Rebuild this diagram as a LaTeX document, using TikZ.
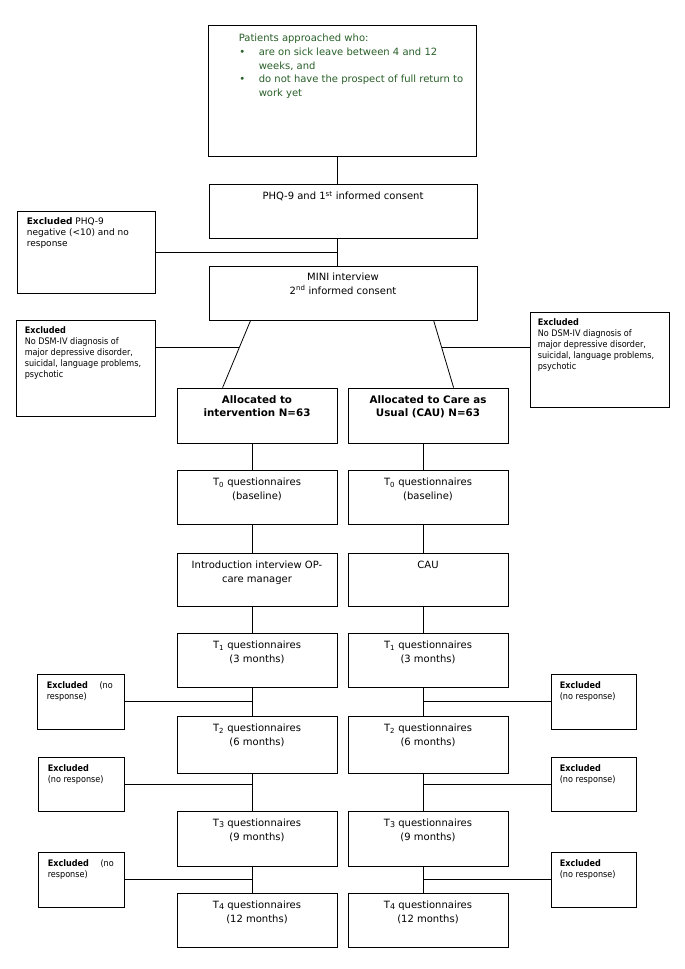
\documentclass[tikz,border=0pt]{standalone}
\usepackage{fontspec}
\setmainfont{DejaVu Sans}
\newfontfamily\condfont{DejaVu Sans Condensed}
\usetikzlibrary{calc}
\definecolor{tgreen}{RGB}{40,95,40}
\tikzset{
  box/.style={draw=black, line width=0.8pt, rectangle, inner sep=0pt},
  conn/.style={draw=black, line width=0.8pt},
  maintext/.style={inner sep=0pt, anchor=north, align=center, font=\fontsize{10}{13.5}\selectfont},
  boldtext/.style={inner sep=0pt, anchor=north, align=center, font=\fontsize{10.3}{12.8}\selectfont\bfseries},
  extext/.style={inner sep=0pt, anchor=north west, align=left, font=\condfont\fontsize{9}{11}\selectfont},
  phqtext/.style={inner sep=0pt, anchor=north west, align=left, font=\fontsize{9}{11}\selectfont},
}
\newcommand{\mkbox}[5]{\node[box, minimum width=#4pt-#2pt, minimum height=#5pt-#3pt] (#1) at ({(#2+#4)/2},{(#3+#5)/2}) {};}
\newcommand{\smallT}[1]{T{\fontsize{8}{9}\selectfont\raisebox{-0.8pt}{#1}}}
\newcommand{\mybul}{\makebox[20pt][l]{\hspace{0.5pt}{\fontsize{10}{10}\selectfont\textbullet}}}
\begin{document}
\begin{tikzpicture}[x=1pt,y=-1pt]
\useasboundingbox (0,0) rectangle (685,969);
% boxes
\mkbox{top}{208}{25}{476}{156}
\mkbox{phq}{209}{184}{477}{238}
\mkbox{exphq}{17}{211}{155}{293}
\mkbox{mini}{209}{266}{477}{320}
\mkbox{exL}{16}{320}{155}{416}
\mkbox{exR}{530}{312}{669}{407}
\mkbox{allocL}{177}{388}{337}{443}
\mkbox{allocR}{348}{388}{508}{443}
\mkbox{t0L}{177}{470}{337}{524}
\mkbox{t0R}{348}{470}{508}{524}
\mkbox{inL}{177}{553}{337}{606}
\mkbox{inR}{348}{553}{508}{606}
\mkbox{t1L}{177}{633}{337}{687}
\mkbox{t1R}{348}{633}{508}{687}
\mkbox{t2L}{177}{716}{337}{773}
\mkbox{t2R}{348}{716}{508}{773}
\mkbox{t3L}{177}{811}{337}{866}
\mkbox{t3R}{348}{811}{508}{866}
\mkbox{t4L}{177}{893}{337}{947}
\mkbox{t4R}{348}{893}{508}{947}
\mkbox{ex1L}{37}{674}{124}{729}
\mkbox{ex1R}{551}{674}{636}{729}
\mkbox{ex2L}{38}{757}{124}{811}
\mkbox{ex2R}{551}{757}{636}{811}
\mkbox{ex3L}{38}{852}{124}{907}
\mkbox{ex3R}{551}{852}{636}{907}
% texts
\node[inner sep=0pt, anchor=north west, align=left, text=tgreen, font=\fontsize{10}{13.6}\selectfont] (ttop) at ($(top.north west)+(31,9.5)$)
 {Patients approached who:\\
  \mybul are on sick leave between 4 and 12\\
  \hspace*{20pt}weeks, and\\
  \mybul do not have the prospect of full return to\\
  \hspace*{20pt}work yet};
\node[maintext] (tphq) at ($(phq.north)+(0,7.5)$) {PHQ-9 and 1\textsuperscript{st} informed consent};
\node[maintext] (tmini) at ($(mini.north)+(0,7.5)$) {MINI interview\\2\textsuperscript{nd} informed consent};
\node[phqtext] (texphq) at ($(exphq.north west)+(10,7)$) {\textbf{Excluded} PHQ-9\\negative (<10) and no\\response};
\node[extext] (texL) at ($(exL.north west)+(9,7)$) {\textbf{Excluded}\\No DSM-IV diagnosis of\\major depressive disorder,\\suicidal, language problems,\\psychotic};
\node[extext] (texR) at ($(exR.north west)+(8,7)$) {\textbf{Excluded}\\No DSM-IV diagnosis of\\major depressive disorder,\\suicidal, language problems,\\psychotic};
\node[boldtext] (tallocL) at ($(allocL.north)+(0,8)$) {Allocated to\\intervention N=63};
\node[boldtext] (tallocR) at ($(allocR.north)+(0,8)$) {Allocated to Care as\\Usual (CAU) N=63};
\node[maintext] (tt0L) at ($(t0L.north)+(0,8.5)$) {T\textsubscript{0} questionnaires\\(baseline)};
\node[maintext] (tt0R) at ($(t0R.north)+(0,8.5)$) {T\textsubscript{0} questionnaires\\(baseline)};
\node[maintext] (tinL) at ($(inL.north)+(0,8.5)$) {Introduction interview OP-\\care manager};
\node[maintext] (tinR) at ($(inR.north)+(0,8.5)$) {CAU};
\node[maintext] (tt1L) at ($(t1L.north)+(0,8.5)$) {T\textsubscript{1} questionnaires\\(3 months)};
\node[maintext] (tt1R) at ($(t1R.north)+(0,8.5)$) {T\textsubscript{1} questionnaires\\(3 months)};
\node[maintext] (tt2L) at ($(t2L.north)+(0,8.5)$) {T\textsubscript{2} questionnaires\\(6 months)};
\node[maintext] (tt2R) at ($(t2R.north)+(0,8.5)$) {T\textsubscript{2} questionnaires\\(6 months)};
\node[maintext] (tt3L) at ($(t3L.north)+(0,8.5)$) {\smallT{3} questionnaires\\(9 months)};
\node[maintext] (tt3R) at ($(t3R.north)+(0,8.5)$) {\smallT{3} questionnaires\\(9 months)};
\node[maintext] (tt4L) at ($(t4L.north)+(0,8.5)$) {\smallT{4} questionnaires\\(12 months)};
\node[maintext] (tt4R) at ($(t4R.north)+(0,8.5)$) {\smallT{4} questionnaires\\(12 months)};
\node[extext, text width=66pt] (tex1L) at ($(ex1L.north west)+(10,7.5)$) {\textbf{Excluded}\hfill(no\\response)};
\node[extext] (tex1R) at ($(ex1R.north west)+(9,7.5)$) {\textbf{Excluded}\\(no response)};
\node[extext] (tex2L) at ($(ex2L.north west)+(10,7.5)$) {\textbf{Excluded}\\(no response)};
\node[extext] (tex2R) at ($(ex2R.north west)+(9,7.5)$) {\textbf{Excluded}\\(no response)};
\node[extext, text width=66pt] (tex3L) at ($(ex3L.north west)+(10,7.5)$) {\textbf{Excluded}\hfill(no\\response)};
\node[extext] (tex3R) at ($(ex3R.north west)+(9,7.5)$) {\textbf{Excluded}\\(no response)};
% connector columns
\coordinate (cM) at (337,0);
\coordinate (cL) at (252,0);
\coordinate (cR) at (423,0);
\draw[conn] (top.south -| cM) -- (phq.north -| cM);
\draw[conn] (phq.south -| cM) -- (mini.north -| cM);
\draw[conn] (exphq.east) -- (exphq.east -| cM);
% diagonals
\coordinate (dLt) at ($(mini.south west)+(42,0)$);
\coordinate (dLb) at ($(allocL.north west)+(46,0)$);
\coordinate (dRt) at ($(mini.south west)+(225,0)$);
\coordinate (dRb) at ($(allocR.north west)+(106,0)$);
\draw[conn] (dLt) -- (dLb);
\draw[conn] (dRt) -- (dRb);
\coordinate (jL) at ($(dLt)!0.397!(dLb)$);
\coordinate (jR) at ($(dRt)!0.397!(dRb)$);
\draw[conn] (exL.east |- jL) -- (jL);
\draw[conn] (exR.west |- jR) -- (jR);
% vertical columns
\foreach \a/\b in {allocL/t0L, t0L/inL, inL/t1L, t1L/t2L, t2L/t3L, t3L/t4L}
  \draw[conn] (\a.south -| cL) -- (\b.north -| cL);
\foreach \a/\b in {allocR/t0R, t0R/inR, inR/t1R, t1R/t2R, t2R/t3R, t3R/t4R}
  \draw[conn] (\a.south -| cR) -- (\b.north -| cR);
% exclusion branches
\foreach \e in {ex1L, ex2L, ex3L}
  \draw[conn] (\e.east) -- (\e.east -| cL);
\foreach \e in {ex1R, ex2R, ex3R}
  \draw[conn] (\e.west) -- (\e.west -| cR);
\end{tikzpicture}
\end{document}
